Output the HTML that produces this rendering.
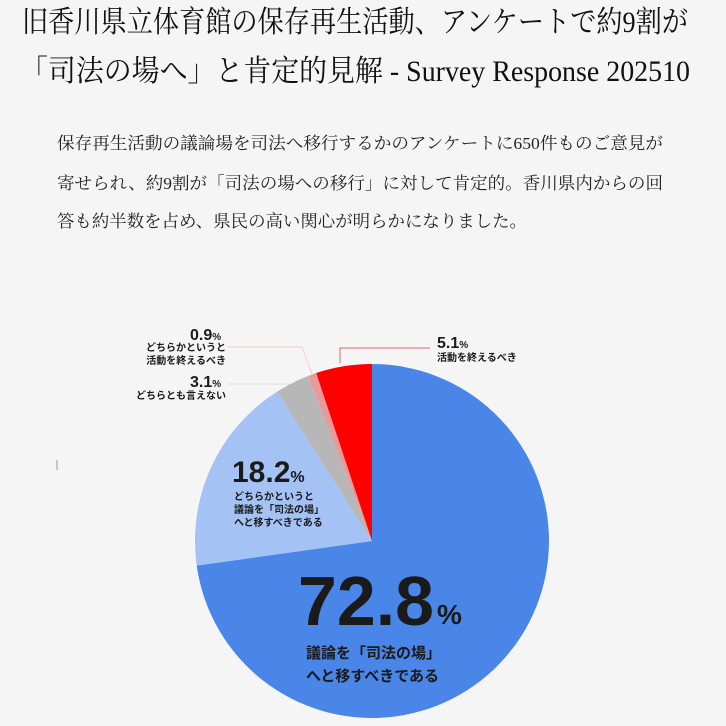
<!DOCTYPE html>
<html><head><meta charset="utf-8"><style>
html,body{margin:0;padding:0;background:#f5f5f5;width:726px;height:726px;overflow:hidden}
svg{display:block}
.t{font-family:"Liberation Serif","Noto Serif CJK SC",serif;fill:#111}
.b{font-family:"Liberation Serif","Noto Serif CJK SC",serif;fill:#222}
.s{font-family:"Liberation Sans","Noto Sans CJK JP",sans-serif;font-weight:bold;fill:#1a1a1a}
</style></head><body>
<svg width="726" height="726" viewBox="0 0 726 726">
<text class="t" x="22" y="32" font-size="30" textLength="666" lengthAdjust="spacingAndGlyphs">旧香川県立体育館の保存再生活動、アンケートで約9割が</text>
<text class="t" x="20" y="81" font-size="30" textLength="670" lengthAdjust="spacingAndGlyphs">「司法の場へ」と肯定的見解 - Survey Response 202510</text>
<text class="b" x="57" y="149" font-size="17" textLength="606" lengthAdjust="spacingAndGlyphs">保存再生活動の議論場を司法へ移行するかのアンケートに650件ものご意見が</text>
<text class="b" x="57" y="189" font-size="17" textLength="606" lengthAdjust="spacingAndGlyphs">寄せられ、約9割が「司法の場への移行」に対して肯定的。香川県内からの回</text>
<text class="b" x="57" y="227" font-size="17" textLength="470" lengthAdjust="spacingAndGlyphs">答も約半数を占め、県民の高い関心が明らかになりました。</text>
<line x1="57" y1="460" x2="57" y2="470" stroke="#999" stroke-width="1"/>
<path d="M372,541 L372,364 A177,177 0 1,1 196.7,565.6 Z" fill="#4a86e8"/>
<path d="M372,541 L196.7,565.6 A177,177 0 0,1 277.2,391.6 Z" fill="#a4c2f4"/>
<path d="M372,541 L277.2,391.6 A177,177 0 0,1 308,376 Z" fill="#b7b7b7"/>
<path d="M372,541 L308,376 A177,177 0 0,1 316.2,373 Z" fill="#ea9999"/>
<path d="M372,541 L316.2,373 A177,177 0 0,1 372,364 Z" fill="#ff0000"/>
<g stroke-width="1" fill="none">
<polyline points="340,363 340,348 430,348" stroke="#e06666"/>
<polyline points="228,347 302,347 312,374" stroke="#f4cccc"/>
<line x1="228" y1="384" x2="290" y2="384" stroke="#ddd"/>
</g>
<text class="s" x="437" y="348" font-size="16">5.1<tspan font-size="10">%</tspan></text>
<text class="s" x="437" y="361" font-size="10">活動を終えるべき</text>
<text class="s" x="190" y="340" font-size="16">0.9<tspan font-size="10">%</tspan></text>
<text class="s" x="226" y="351" font-size="10" text-anchor="end">どちらかというと</text>
<text class="s" x="226" y="364" font-size="10" text-anchor="end">活動を終えるべき</text>
<text class="s" x="190" y="387" font-size="16">3.1<tspan font-size="10">%</tspan></text>
<text class="s" x="226" y="399" font-size="10" text-anchor="end">どちらとも言えない</text>
<text class="s" x="232" y="482" font-size="30">18.2<tspan font-size="16">%</tspan></text>
<text class="s" x="234" y="500" font-size="10">どちらかというと</text>
<text class="s" x="234" y="513" font-size="10">議論を「司法の場」</text>
<text class="s" x="234" y="526" font-size="10">へと移すべきである</text>
<text class="s" x="298" y="625" font-size="70" textLength="136" lengthAdjust="spacingAndGlyphs">72.8</text>
<text class="s" x="437" y="624" font-size="28">%</text>
<text class="s" x="306" y="658" font-size="15">議論を「司法の場」</text>
<text class="s" x="306" y="681" font-size="15">へと移すべきである</text>
</svg>
</body></html>
